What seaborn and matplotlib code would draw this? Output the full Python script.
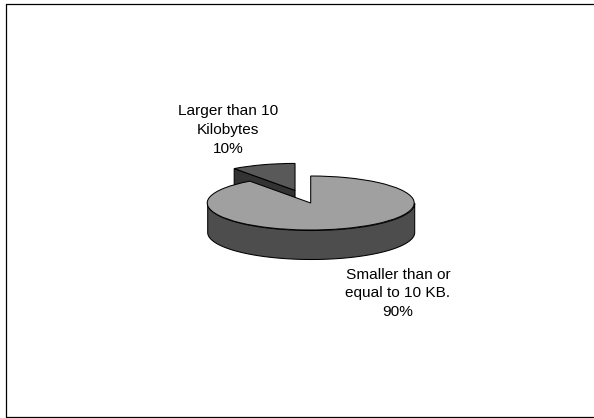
import numpy as np
import matplotlib
matplotlib.use("Agg")
import matplotlib.pyplot as plt
from matplotlib.lines import Line2D
import seaborn as sns

# File-size split shown as a tilted pie with one slice pulled out
categories = ["Larger than 10\nKilobytes", "Smaller than or\nequal to 10 KB."]
shares = [10, 90]

top_colors = sns.color_palette(["#595959", "#A0A0A0"])
wall_main = "#4D4D4D"
wall_small = "#333333"
edge = "#000000"

sns.set_theme(style="white")
plt.rcParams["font.family"] = ["Liberation Sans", "DejaVu Sans"]

W, H = 594, 418
fig = plt.figure(figsize=(W / 100, H / 100), dpi=100, facecolor="white")
ax = fig.add_axes([0, 0, 1, 1])

# Pixel scale of the unit pie: wide radius, flattened radius, wall height
rx, ry, depth_px = 103.5, 27.0, 29.0
cx, cy = 310.7, 203.0
depth = depth_px / ry
pull = 0.49
lw = 0.75

wedges, _ = ax.pie(
    shares,
    colors=top_colors,
    startangle=90,
    explode=[pull, 0],
    wedgeprops=dict(edgecolor=edge, linewidth=lw),
)
small, main = wedges
small.set_zorder(3)
main.set_zorder(5)

# Inner wall of the pulled-out slice, below its radial edge
slice_angle = np.deg2rad(90 + 360 * shares[0] / sum(shares))
mid_angle = np.deg2rad(90 + 180 * shares[0] / sum(shares))
ox, oy = pull * np.cos(mid_angle), pull * np.sin(mid_angle)
ex, ey = ox + np.cos(slice_angle), oy + np.sin(slice_angle)
ax.fill(
    [ex, ox, ox, ex],
    [ey, oy, oy - depth, ey - depth],
    facecolor=wall_small,
    edgecolor=edge,
    linewidth=lw,
    zorder=2,
)

# Front wall of the large slice, along the lower half of its rim
theta = np.linspace(np.pi, 2 * np.pi, 200)
xs, ys = np.cos(theta), np.sin(theta)
ax.fill_between(xs, ys, ys - depth, facecolor=wall_main, edgecolor=edge,
                linewidth=lw, zorder=4)

ax.set_aspect("auto")
ax.set_xlim(-cx / rx, (W - cx) / rx)
ax.set_ylim(-(H - cy) / ry, cy / ry)

# Category labels with their percentages
label_pos = [(228, 130), (398, 293.5)]
for name, share, (px, py) in zip(categories, shares, label_pos):
    fig.text(px / W, 1 - py / H, f"{name}\n{share}%", ha="center", va="center",
             fontsize=11.1, color="black", linespacing=1.45)

# Outline of the chart area
for xa, ya, xb, yb in [(6, 4, W, 4), (6, 4, 6, 417), (6, 417, W, 417)]:
    fig.add_artist(Line2D([xa / W, xb / W], [1 - ya / H, 1 - yb / H],
                          color="black", linewidth=0.9))

fig.savefig("out.png", dpi=100)
